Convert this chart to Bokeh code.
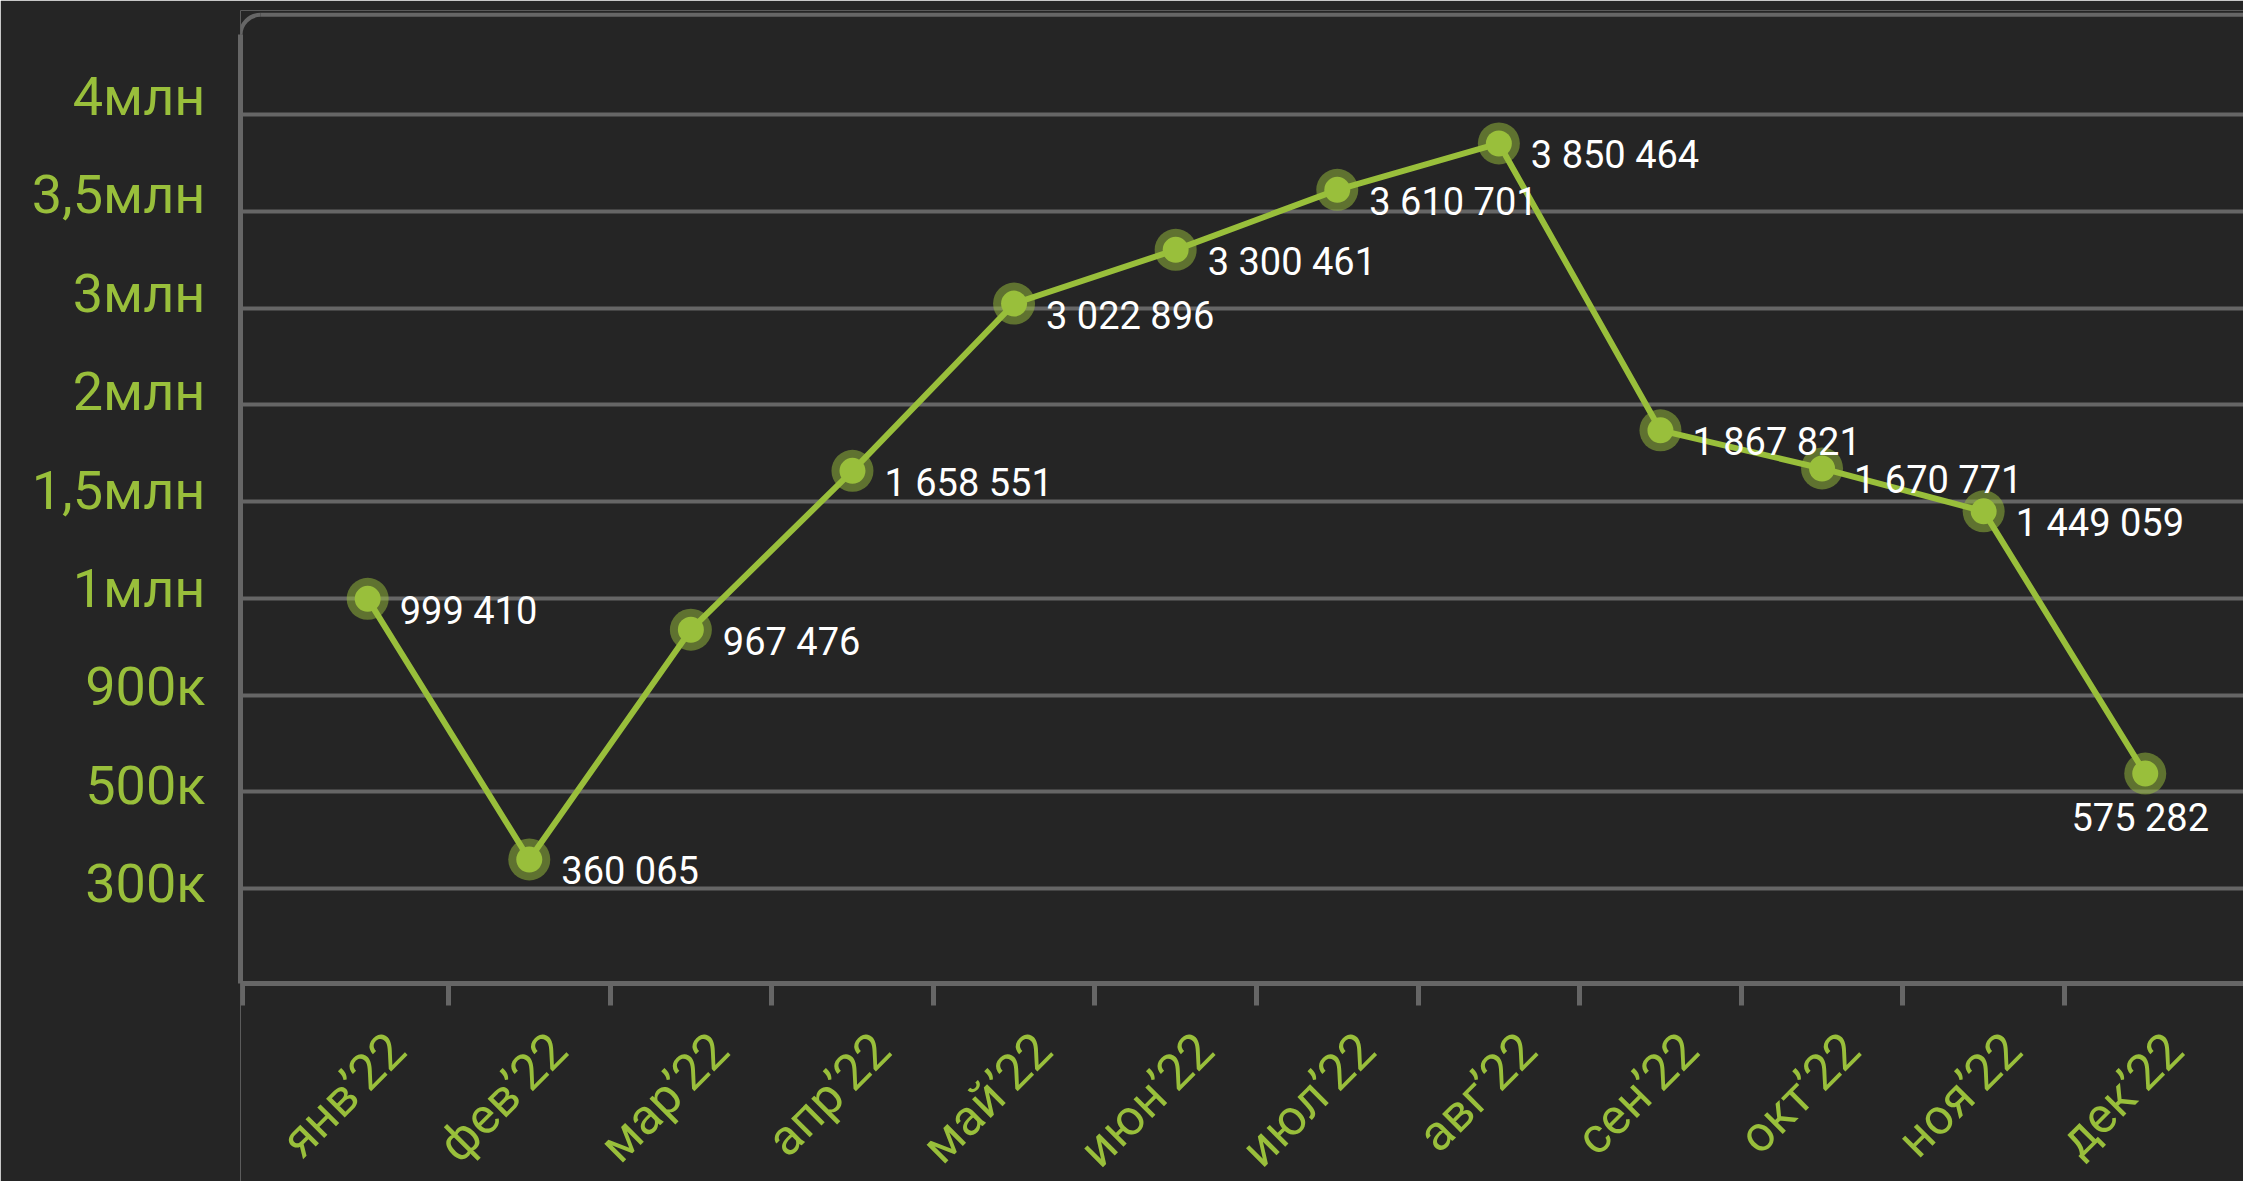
import numpy as np
from bokeh.plotting import figure
from bokeh.models import FixedTicker, ColumnDataSource, Range1d
from bokeh.embed import file_html
from bokeh.resources import INLINE
from bokeh.core.properties import value

months = ["янв’22", "фев’22", "мар’22", "апр’22", "май’22", "июн’22",
          "июл’22", "авг’22", "сен’22", "окт’22", "ноя’22", "дек’22"]
sales = [999410, 360065, 967476, 1658551, 3022896, 3300461,
         3610701, 3850464, 1867821, 1670771, 1449059, 575282]
y_tick_values = [300000, 500000, 900000, 1000000, 1500000, 2000000, 3000000, 3500000, 4000000]
y_tick_labels = ["300к", "500к", "900к", "1млн", "1,5млн", "2млн", "3млн", "3,5млн", "4млн"]

BG = "#252525"
GRID = "#666666"
GREEN = "#99bf3b"
FONT = "Roboto"

n = len(months)
levels = list(range(len(y_tick_values)))
xs = np.arange(n) + 0.5
ys = np.interp(sales, y_tick_values, levels)
texts = [f"{v:,}".replace(",", " ") for v in sales]

W, H = 2243, 1181
LEFT, TOP = 240, 10
x_start, x_end = -0.287, 12.108
y_top = 9.075
y_axis = -0.982                      # where the bottom axis sits
px_y = 96.75                         # pixels per grid step
y_start = y_top - (H - TOP) / px_y   # frame reaches the page bottom so month labels show
px_x = (W - LEFT) / (x_end - x_start)
frame_top_y = 9.03

p = figure(width=W, height=H, output_backend="svg", toolbar_location=None,
           x_range=Range1d(x_start, x_end), y_range=Range1d(y_start, y_top),
           background_fill_color=BG, border_fill_color=BG, outline_line_color=None,
           min_border_left=LEFT, min_border_right=0, min_border_top=TOP, min_border_bottom=0)

# x axis: band boundaries as (minor) ticks, month names as rotated labels
label_ticks = [round(i + 0.68, 2) for i in range(n)]
p.xaxis.fixed_location = y_axis
p.xaxis.ticker = FixedTicker(ticks=label_ticks, minor_ticks=[x_start + 0.01] + list(range(1, n)))
p.xaxis.major_label_overrides = {t: m for t, m in zip(label_ticks, months)}
p.xaxis.axis_line_color = GRID
p.xaxis.axis_line_width = 5
p.xaxis.major_tick_line_color = None
p.xaxis.major_tick_out = 0
p.xaxis.major_tick_in = 0
p.xaxis.minor_tick_line_color = GRID
p.xaxis.minor_tick_line_width = 5
p.xaxis.minor_tick_out = 22
p.xaxis.minor_tick_in = 0
p.xaxis.major_label_orientation = np.pi / 4
p.xaxis.major_label_text_color = GREEN
p.xaxis.major_label_text_font = FONT
p.xaxis.major_label_text_font_size = "50px"
p.xaxis.major_label_standoff = 36

# y axis: labels sit slightly above their grid lines, as in the original design
r = 20  # corner radius, px
label_levels = [round(k + 0.05 + 0.017 * k, 3) for k in levels]
p.yaxis.ticker = FixedTicker(ticks=label_levels, minor_ticks=[])
p.yaxis.bounds = (y_axis, frame_top_y - r / px_y)
p.yaxis.major_label_overrides = {l: t for l, t in zip(label_levels, y_tick_labels)}
p.yaxis.axis_line_color = GRID
p.yaxis.axis_line_width = 5
p.yaxis.major_tick_line_color = None
p.yaxis.major_tick_out = 0
p.yaxis.major_tick_in = 0
p.yaxis.minor_tick_line_color = None
p.yaxis.major_label_standoff = 35
p.yaxis.major_label_text_color = GREEN
p.yaxis.major_label_text_font = FONT
p.yaxis.major_label_text_font_size = "54px"

p.xgrid.visible = False
p.ygrid.ticker = FixedTicker(ticks=levels, minor_ticks=[])
p.ygrid.grid_line_color = GRID
p.ygrid.grid_line_width = 4

# top edge of the frame with a rounded top-left corner
p.segment(x0=[x_start + r / px_x], y0=[frame_top_y], x1=[x_end], y1=[frame_top_y],
          line_color=GRID, line_width=4)
p.arc(x=[x_start + r / px_x], y=[frame_top_y - r / px_y], radius=r, radius_units="screen",
      start_angle=np.pi / 2, end_angle=np.pi, line_color=GRID, line_width=4)

# value label placement: to the right, except when it would run off the plot
align, xoff, yoff = [], [], []
for x in xs:
    if x + 1.0 > x_end:
        align.append("center"); xoff.append(-5); yoff.append(44)
    else:
        align.append("left"); xoff.append(32); yoff.append(12)

src = ColumnDataSource(dict(x=xs, y=ys, label=texts, align=align, xoff=xoff, yoff=yoff))

p.scatter("x", "y", source=src, size=42, fill_color=GREEN, fill_alpha=0.5, line_color=None)
p.line("x", "y", source=src, line_color=GREEN, line_width=6)
p.scatter("x", "y", source=src, size=26, fill_color=GREEN, line_color=None)
p.text("x", "y", text="label", source=src, x_offset="xoff", y_offset="yoff",
       text_align="align", text_baseline="middle", text_color="white",
       text_font=value(FONT), text_font_size="38px")

open("out.html", "w").write(file_html(p, INLINE))
